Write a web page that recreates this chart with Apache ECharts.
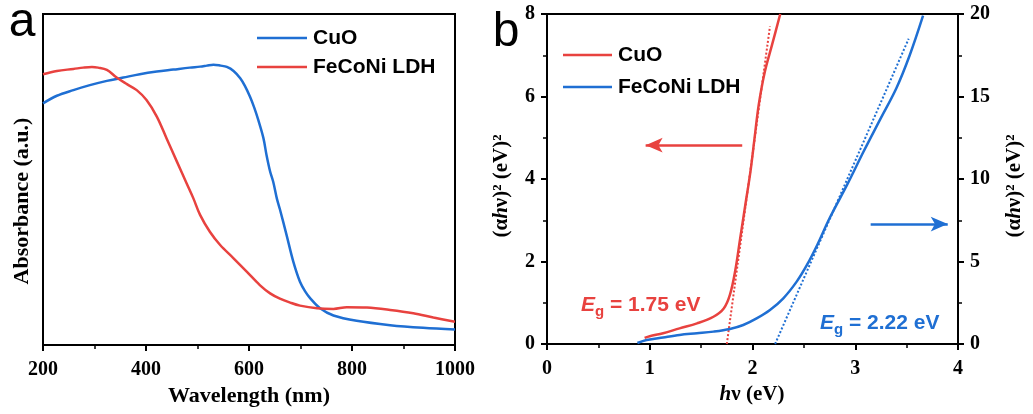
<!DOCTYPE html>
<html><head><meta charset="utf-8">
<script src="https://cdn.jsdelivr.net/npm/echarts@6/dist/echarts.min.js"></script>
<style>html,body{margin:0;padding:0;background:#fff}#c{width:1033px;height:414px}</style>
</head><body><div id="c"></div>
<script>
// ---------- Panel a: UV-vis absorbance ----------
const wlCuO  = [200, 227, 259, 291, 324, 356, 388, 421, 453, 485, 505, 518, 531, 545, 557, 570, 583, 592, 602, 610, 618, 628, 634, 641, 647, 654, 660, 673, 686, 699, 709, 719, 738, 764, 809, 874, 938, 1000];
const absCuO = [73.0, 75.3, 77.0, 78.5, 79.8, 80.8, 81.8, 82.6, 83.2, 83.8, 84.1, 84.4, 84.7, 84.4, 84.0, 82.8, 80.6, 78.3, 75.0, 71.8, 68.0, 62.5, 57.4, 52.4, 49.3, 44.3, 41.0, 33.2, 25.2, 19.1, 16.2, 14.1, 11.1, 8.9, 7.3, 6.0, 5.2, 4.7];
const wlLDH  = [200, 227, 259, 278, 295, 307, 324, 343, 363, 382, 401, 421, 440, 460, 479, 492, 505, 524, 544, 570, 596, 621, 641, 660, 680, 699, 732, 764, 790, 829, 874, 919, 958, 1000];
const absLDH = [81.8, 82.8, 83.4, 83.8, 84.0, 83.8, 83.1, 80.8, 78.8, 77.0, 74.0, 69.0, 62.4, 55.4, 48.8, 44.3, 39.3, 34.2, 30.2, 26.2, 22.1, 18.1, 15.6, 14.0, 12.8, 11.9, 11.1, 10.9, 11.4, 11.3, 10.6, 9.6, 8.3, 7.0];

// ---------- Panel b: Tauc plots ----------
const hvCuO  = [0.95, 1.0, 1.13, 1.29, 1.46, 1.62, 1.72, 1.78, 1.83, 1.88, 1.93, 1.98, 2.02, 2.06, 2.12, 2.19, 2.27];
const tauCuO = [0.15, 0.19, 0.26, 0.38, 0.50, 0.66, 0.86, 1.19, 1.75, 2.56, 3.37, 4.18, 4.99, 5.79, 6.6, 7.25, 8.0];
const hvLDH  = [0.88, 0.97, 1.13, 1.29, 1.46, 1.62, 1.78, 1.91, 2.04, 2.17, 2.30, 2.43, 2.53, 2.63, 2.75, 2.92, 3.08, 3.24, 3.40, 3.53, 3.66];
const tauLDH = [0.06, 0.24, 0.40, 0.55, 0.65, 0.75, 0.91, 1.15, 1.55, 2.06, 2.77, 3.78, 4.79, 6.0, 7.62, 9.64, 11.65, 13.58, 15.5, 17.5, 19.9];
const fitCuOX = [1.75, 2.17], fitCuOY = [0, 7.7];
const fitLDHX = [2.22, 3.52], fitLDHY = [0, 18.5];
const arrowCuOX = [1.90, 0.96], arrowCuOY = 4.82;
const arrowLDHX = [3.15, 3.90], arrowLDHY = 7.27;
const seriesNames = ['CuO', 'FeCoNi LDH'];
const egCuO = '1.75', egLDH = '2.22';

const RED = '#E8423F', BLUE = '#1F6FD3';
const SERIF = '"Times New Roman", "Liberation Serif", serif';
const SANS = 'Arial, "Liberation Sans", sans-serif';
const zip = (xs, ys) => xs.map((x, i) => [x, ys[i]]);

function axisCommon(extra) {
  return Object.assign({
    type: 'value',
    axisLine: { show: true, onZero: false, lineStyle: { color: '#000', width: 2 } },
    axisTick: { show: true, inside: false, length: 6, lineStyle: { color: '#000', width: 2 } },
    minorTick: { show: true, splitNumber: 2, length: 4, lineStyle: { color: '#000', width: 1.5 } },
    splitLine: { show: false },
    minorSplitLine: { show: false },
    axisLabel: { color: '#000', fontFamily: SERIF, fontWeight: 'bold', fontSize: 20, margin: 15, formatter: v => String(v) }
  }, extra);
}

const chart = echarts.init(document.getElementById('c'), null, { renderer: 'canvas' });

const lineSeries = (name, data, xi, yi, color, extra) => Object.assign({
  name, type: 'line', data, xAxisIndex: xi, yAxisIndex: yi,
  showSymbol: false, symbol: 'none', smooth: 0.35,
  lineStyle: { color, width: 2.5 }, itemStyle: { color }, silent: true, animation: false
}, extra || {});

const legendItems = (x1, x2, ys, colors, names) => {
  const out = [];
  names.forEach((n, i) => {
    out.push({ type: 'line', shape: { x1, y1: ys[i], x2, y2: ys[i] }, style: { stroke: colors[i], lineWidth: 2.5 } });
    out.push({ type: 'text', x: x2 + 6, y: ys[i], style: { text: n, fill: '#000', fontFamily: SANS, fontWeight: 'bold', fontSize: 21, align: 'left', verticalAlign: 'middle' } });
  });
  return out;
};

const egText = (x, y, val, color) => ({
  type: 'text', x, y,
  style: {
    text: '{E|E}{g|g}{t| = ' + val + ' eV}', fill: color, align: 'left', verticalAlign: 'middle',
    rich: {
      E: { fontFamily: SANS, fontWeight: 'bold', fontStyle: 'italic', fontSize: 21, fill: color },
      g: { fontFamily: SANS, fontWeight: 'bold', fontSize: 15, lineHeight: 15, padding: [14, 0, 0, 0], fill: color },
      t: { fontFamily: SANS, fontWeight: 'bold', fontSize: 21, fill: color }
    }
  }
});

const tauRich = {
  i: { fontFamily: SERIF, fontWeight: 'bold', fontStyle: 'italic', fontSize: 21, fill: '#000' },
  n: { fontFamily: SERIF, fontWeight: 'bold', fontSize: 21, fill: '#000' }
};

const option = {
  backgroundColor: '#fff',
  animation: false,
  grid: [
    { left: 43, top: 14, width: 412, height: 331, show: true, borderColor: '#000', borderWidth: 2, backgroundColor: 'transparent' },
    { left: 547, top: 14, width: 411, height: 330, show: true, borderColor: '#000', borderWidth: 2, backgroundColor: 'transparent' }
  ],
  xAxis: [
    axisCommon({ gridIndex: 0, min: 200, max: 1000, interval: 200 }),
    axisCommon({ gridIndex: 1, min: 0, max: 4, interval: 1 })
  ],
  yAxis: [
    axisCommon({ gridIndex: 0, min: 0, max: 100, axisTick: { show: false }, minorTick: { show: false }, axisLabel: { show: false } }),
    axisCommon({ gridIndex: 1, min: 0, max: 8, interval: 2, position: 'left', axisLabel: { color: '#000', fontFamily: SERIF, fontWeight: 'bold', fontSize: 20, margin: 12 } }),
    axisCommon({ gridIndex: 1, min: 0, max: 20, interval: 5, position: 'right', axisLabel: { color: '#000', fontFamily: SERIF, fontWeight: 'bold', fontSize: 20, margin: 12 } })
  ],
  series: [
    lineSeries(seriesNames[0], zip(wlCuO, absCuO), 0, 0, BLUE),
    lineSeries(seriesNames[1], zip(wlLDH, absLDH), 0, 0, RED),
    lineSeries(seriesNames[0] + ' fit', zip(fitCuOX, fitCuOY), 1, 1, RED, {
      smooth: false, lineStyle: { color: RED, width: 2, type: [2, 2] },
      markLine: {
        silent: true, symbol: ['none', 'arrow'], symbolSize: [11, 17],
        label: { show: false },
        lineStyle: { color: RED, width: 2.5, type: 'solid' },
        data: [[{ coord: [arrowCuOX[0], arrowCuOY] }, { coord: [arrowCuOX[1], arrowCuOY] }]]
      }
    }),
    lineSeries(seriesNames[1] + ' fit', zip(fitLDHX, fitLDHY), 1, 2, BLUE, {
      smooth: false, lineStyle: { color: BLUE, width: 2, type: [2, 2] },
      markLine: {
        silent: true, symbol: ['none', 'arrow'], symbolSize: [11, 17],
        label: { show: false },
        lineStyle: { color: BLUE, width: 2.5, type: 'solid' },
        data: [[{ coord: [arrowLDHX[0], arrowLDHY] }, { coord: [arrowLDHX[1], arrowLDHY] }]]
      }
    }),
    lineSeries(seriesNames[0], zip(hvCuO, tauCuO), 1, 1, RED),
    lineSeries(seriesNames[1], zip(hvLDH, tauLDH), 1, 2, BLUE)
  ],
  graphic: [].concat(
    [
      { type: 'text', x: 22, y: 23, style: { text: 'a', fill: '#000', fontFamily: SANS, fontSize: 48, align: 'center', verticalAlign: 'middle' } },
      { type: 'text', x: 506, y: 33, style: { text: 'b', fill: '#000', fontFamily: SANS, fontSize: 48, align: 'center', verticalAlign: 'middle' } },
      { type: 'text', x: 249, y: 396, style: { text: 'Wavelength (nm)', fill: '#000', fontFamily: SERIF, fontWeight: 'bold', fontSize: 22, align: 'center', verticalAlign: 'middle' } },
      { type: 'text', x: 22, y: 201, rotation: Math.PI / 2, style: { text: 'Absorbance (a.u.)', fill: '#000', fontFamily: SERIF, fontWeight: 'bold', fontSize: 22, align: 'center', verticalAlign: 'middle' } },
      { type: 'text', x: 752, y: 395, style: { text: '{i|h}{n|ν (eV)}', rich: tauRich, align: 'center', verticalAlign: 'middle' } },
      { type: 'text', x: 502, y: 186, rotation: Math.PI / 2, style: { text: '{n|(α}{i|h}{n|ν)² (eV)²}', rich: tauRich, align: 'center', verticalAlign: 'middle' } },
      { type: 'text', x: 1015, y: 186, rotation: Math.PI / 2, style: { text: '{n|(α}{i|h}{n|ν)² (eV)²}', rich: tauRich, align: 'center', verticalAlign: 'middle' } },
      egText(581, 305, egCuO, RED),
      egText(820, 323, egLDH, BLUE)
    ],
    legendItems(257, 307, [38, 67], [BLUE, RED], seriesNames),
    legendItems(563, 612, [55, 87], [RED, BLUE], seriesNames)
  )
};
chart.setOption(option);
</script></body></html>
